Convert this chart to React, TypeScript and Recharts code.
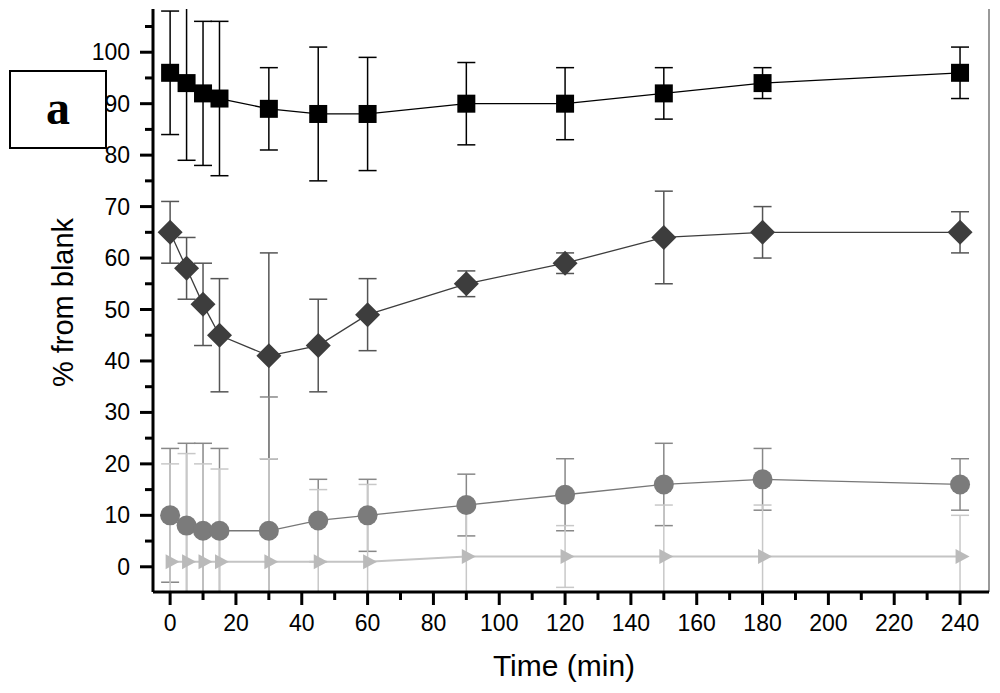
import React from 'react'
import {
  LineChart,
  Line,
  XAxis,
  YAxis,
  ErrorBar,
  ReferenceLine
} from 'recharts'

// sampling times (min)
const times = [0, 5, 10, 15, 30, 45, 60, 90, 120, 150, 180, 240]

// % from blank, mean and +/- error for each treatment
const squareMean = [96, 94, 92, 91, 89, 88, 88, 90, 90, 92, 94, 96]
const squareErr = [12, 15, 14, 15, 8, 13, 11, 8, 7, 5, 3, 5]
const diamondMean = [65, 58, 51, 45, 41, 43, 49, 55, 59, 64, 65, 65]
const diamondErr = [6, 6, 8, 11, 20, 9, 7, 2.5, 2, 9, 5, 4]
const circleMean = [10, 8, 7, 7, 7, 9, 10, 12, 14, 16, 17, 16]
const circleErr = [13, 16, 17, 16, 26, 8, 7, 6, 7, 8, 6, 5]
const triangleMean = [1, 1, 1, 1, 1, 1, 1, 2, 2, 2, 2, 2]
const triangleErr = [19, 21, 19, 18, 20, 14, 15, 10, 6, 10, 10, 8]

const xTicks = [0, 10, 20, 30, 40, 50, 60, 70, 80, 90, 100, 110, 120, 130, 140, 150, 160, 170, 180, 190, 200, 210, 220, 230, 240]
const yTicks = [0, 5, 10, 15, 20, 25, 30, 35, 40, 45, 50, 55, 60, 65, 70, 75, 80, 85, 90, 95, 100, 105]

const data = times.map((t, i) => ({
  t,
  sq: squareMean[i],
  sqErr: squareErr[i],
  di: diamondMean[i],
  diErr: diamondErr[i],
  ci: circleMean[i],
  ciErr: circleErr[i],
  tr: triangleMean[i],
  trErr: triangleErr[i]
}))

const FONT = '"Liberation Sans", Arial, sans-serif'

// plot box, used to clip the error bars that run past the axes
const PLOT = { x: 153, y: 9, w: 836, h: 583 }

const XTick = ({ x, y, payload }: any) => {
  const major = payload.value % 20 === 0
  return (
    <g>
      <line x1={x} y1={y} x2={x} y2={y + (major ? 13 : 8)} stroke="#000" strokeWidth={3} />
      {major && (
        <text x={x} y={y + 39} textAnchor="middle" fontSize={23} fontFamily={FONT} fill="#000">
          {payload.value}
        </text>
      )}
    </g>
  )
}

const YTick = ({ x, y, payload }: any) => {
  const major = payload.value % 10 === 0
  return (
    <g>
      <line x1={x} y1={y} x2={x - (major ? 13 : 8)} y2={y} stroke="#000" strokeWidth={3} />
      {major && (
        <text x={x - 23} y={y + 8} textAnchor="end" fontSize={23} fontFamily={FONT} fill="#000">
          {payload.value}
        </text>
      )}
    </g>
  )
}

const Square = (p: any) => (
  <rect key={`sq-${p.index}`} x={p.cx - 9} y={p.cy - 9} width={18} height={18} fill="#000" />
)
const Diamond = (p: any) => (
  <polygon
    key={`di-${p.index}`}
    points={`${p.cx},${p.cy - 12.5} ${p.cx + 12.5},${p.cy} ${p.cx},${p.cy + 12.5} ${p.cx - 12.5},${p.cy}`}
    fill="#3d3d3d"
  />
)
const Circle = (p: any) => (
  <circle key={`ci-${p.index}`} cx={p.cx} cy={p.cy} r={10} fill="#7b7b7b" />
)
const Triangle = (p: any) => (
  <polygon
    key={`tr-${p.index}`}
    points={`${p.cx - 4.5},${p.cy - 7.5} ${p.cx + 9.5},${p.cy} ${p.cx - 4.5},${p.cy + 7.5}`}
    fill="#bababa"
  />
)

const XLabel = ({ viewBox }: any) => (
  <text
    x={viewBox.x + viewBox.width / 2 - 7}
    y={viewBox.y + 84}
    textAnchor="middle"
    fontSize={30}
    fontFamily={FONT}
    fill="#000"
  >
    Time (min)
  </text>
)

const YLabel = ({ viewBox }: any) => {
  const cx = viewBox.x + 73
  const cy = viewBox.y + viewBox.height / 2 + 2
  return (
    <text
      x={cx}
      y={cy}
      transform={`rotate(-90 ${cx} ${cy})`}
      textAnchor="middle"
      fontSize={29}
      fontFamily={FONT}
      fill="#000"
    >
      % from blank
    </text>
  )
}

export default function App() {
  return (
    <div style={{ position: 'absolute', left: 0, top: 0, width: 1000, height: 693, background: '#fff' }}>
      <style>{`.recharts-errorBars { clip-path: url(#plotClip); }`}</style>
      <svg width={0} height={0} style={{ position: 'absolute' }}>
        <defs>
          <clipPath id="plotClip" clipPathUnits="userSpaceOnUse">
            <rect x={PLOT.x} y={PLOT.y} width={PLOT.w} height={PLOT.h} />
          </clipPath>
        </defs>
      </svg>
      <LineChart width={1000} height={693} data={data} margin={{ top: 9, right: 11, left: 0, bottom: 0 }}>
        <XAxis
          dataKey="t"
          type="number"
          domain={[-5.2, 248.8]}
          allowDataOverflow
          ticks={xTicks}
          interval={0}
          height={101}
          tickLine={false}
          tickSize={0}
          tickMargin={0}
          tick={<XTick />}
          axisLine={{ stroke: '#000', strokeWidth: 3 }}
          label={<XLabel />}
        />
        <YAxis
          type="number"
          domain={[-4.9, 108.4]}
          allowDataOverflow
          ticks={yTicks}
          interval={0}
          width={153}
          tickLine={false}
          tickSize={0}
          tickMargin={0}
          tick={<YTick />}
          axisLine={{ stroke: '#000', strokeWidth: 3 }}
          label={<YLabel />}
        />
        <ReferenceLine x={248.8} stroke="#555" strokeWidth={1.2} />
        <Line
          dataKey="sq"
          stroke="#000"
          strokeWidth={1.3}
          dot={Square}
          activeDot={false}
          isAnimationActive={false}
        >
          <ErrorBar dataKey="sqErr" direction="y" width={9} stroke="#000" strokeWidth={1.5} />
        </Line>
        <Line
          dataKey="di"
          stroke="#3d3d3d"
          strokeWidth={1.3}
          dot={Diamond}
          activeDot={false}
          isAnimationActive={false}
        >
          <ErrorBar dataKey="diErr" direction="y" width={9} stroke="#555" strokeWidth={1.5} />
        </Line>
        <Line
          dataKey="ci"
          stroke="#777"
          strokeWidth={1.3}
          dot={Circle}
          activeDot={false}
          isAnimationActive={false}
        >
          <ErrorBar dataKey="ciErr" direction="y" width={9} stroke="#888" strokeWidth={1.5} />
        </Line>
        <Line
          dataKey="tr"
          stroke="#c4c4c4"
          strokeWidth={2}
          dot={Triangle}
          activeDot={false}
          isAnimationActive={false}
        >
          <ErrorBar dataKey="trErr" direction="y" width={9} stroke="#c8c8c8" strokeWidth={1.5} />
        </Line>
      </LineChart>
      <div
        style={{
          position: 'absolute',
          left: 9,
          top: 70,
          width: 94,
          height: 75,
          border: '2px solid #000',
          display: 'flex',
          alignItems: 'center',
          justifyContent: 'center',
          fontFamily: '"Liberation Serif", "Times New Roman", serif',
          fontWeight: 'bold',
          fontSize: 48,
          lineHeight: 1
        }}
      >
        <span style={{ marginTop: -4 }}>a</span>
      </div>
    </div>
  )
}
